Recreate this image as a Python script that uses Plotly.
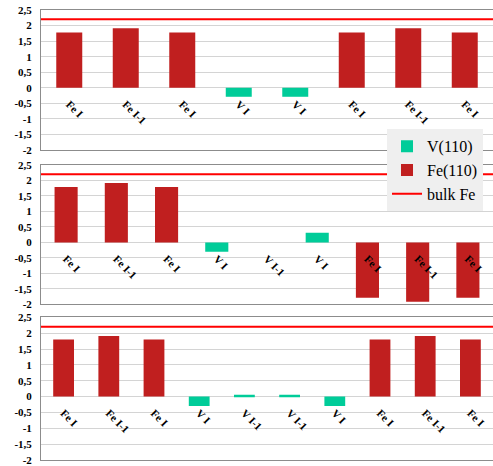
import plotly.graph_objects as go

# Magnetic moments per layer for three V/Fe(110) stackings
P1_LABELS = ["Fe I", "Fe I-1", "Fe I", "V I", "V I", "Fe I", "Fe I-1", "Fe I"]
P1_VALUES = [1.78, 1.91, 1.78, -0.29, -0.29, 1.78, 1.91, 1.78]

P2_LABELS = ["Fe I", "Fe I-1", "Fe I", "V I", "V I-1", "V I", "Fe I", "Fe I-1", "Fe I"]
P2_VALUES = [1.79, 1.92, 1.79, -0.30, 0.0, 0.31, -1.78, -1.91, -1.78]

P3_LABELS = ["Fe I", "Fe I-1", "Fe I", "V I", "V I-1", "V I-1", "V I", "Fe I", "Fe I-1", "Fe I"]
P3_VALUES = [1.80, 1.91, 1.80, -0.30, 0.06, 0.06, -0.30, 1.80, 1.91, 1.80]

BULK_FE = 2.2

Y_TICKS = [-2, -1.5, -1, -0.5, 0, 0.5, 1, 1.5, 2, 2.5]
Y_TICK_LABELS = ["-2", "-1,5", "-1", "-0,5", "0", "0,5", "1", "1,5", "2", "2,5"]
Y_RANGE = [-2, 2.5]

FE_COLOR = "#c01f1f"
V_COLOR = "#00cc99"
BULK_COLOR = "#ff0000"
FRAME = "#8c8c8c"
GRID = "#d4d4d4"
SERIF = "Liberation Serif, Times New Roman, serif"

panels = [(P1_LABELS, P1_VALUES), (P2_LABELS, P2_VALUES), (P3_LABELS, P3_VALUES)]
domains = [[0.689, 1.0], [0.3456, 0.6556], [0.0, 0.317]]

fig = go.Figure()
layout = {}

for i, ((labels, values), dom) in enumerate(zip(panels, domains)):
    n = len(labels)
    xs = list(range(n))
    xa = "x" if i == 0 else f"x{i + 1}"
    ya = "y" if i == 0 else f"y{i + 1}"
    lab_idx = i + 4
    xa_lab = f"x{lab_idx}"

    fe_vals = [v if lab.startswith("Fe") else None for lab, v in zip(labels, values)]
    v_vals = [v if lab.startswith("V") else None for lab, v in zip(labels, values)]

    fig.add_trace(go.Bar(
        x=xs, y=v_vals, name="V(110)", xaxis=xa, yaxis=ya, width=0.46,
        marker=dict(color=V_COLOR, line=dict(width=0)),
        showlegend=(i == 0), legendrank=1, legendgroup="v",
    ))
    fig.add_trace(go.Bar(
        x=xs, y=fe_vals, name="Fe(110)", xaxis=xa, yaxis=ya, width=0.46,
        marker=dict(color=FE_COLOR, line=dict(width=0)),
        showlegend=(i == 0), legendrank=2, legendgroup="fe",
    ))
    fig.add_trace(go.Scatter(
        x=[-0.5, n - 0.5], y=[BULK_FE, BULK_FE], mode="lines", name="bulk Fe",
        xaxis=xa, yaxis=ya, line=dict(color=BULK_COLOR, width=2),
        showlegend=(i == 0), legendrank=3, legendgroup="bulk", hoverinfo="skip",
    ))
    # invisible carrier trace for the category-label axis sitting on y = 0
    fig.add_trace(go.Scatter(
        x=xs, y=[None] * n, xaxis=xa_lab, yaxis=ya, mode="markers",
        showlegend=False, hoverinfo="skip",
    ))

    xr = [-0.5, n - 0.5]
    zero_pos = dom[0] + (dom[1] - dom[0]) * (0 - Y_RANGE[0]) / (Y_RANGE[1] - Y_RANGE[0])

    layout["xaxis" if i == 0 else f"xaxis{i + 1}"] = dict(
        domain=[0, 1], anchor=ya, range=xr, showticklabels=False, ticks="",
        showgrid=False, zeroline=False, showline=True, mirror=True,
        linecolor=FRAME, linewidth=1,
    )
    layout[f"xaxis{lab_idx}"] = dict(
        overlaying=xa, anchor="free", position=zero_pos, range=xr,
        tickmode="array", tickvals=xs, ticktext=labels, tickangle=45,
        ticks="", showgrid=False, zeroline=False, showline=False,
        ticklabelstandoff=7,
        tickfont=dict(family=SERIF, size=11, color="#000000", weight="bold"),
    )
    layout["yaxis" if i == 0 else f"yaxis{i + 1}"] = dict(
        domain=dom, anchor=xa, range=Y_RANGE, tickmode="array",
        tickvals=Y_TICKS, ticktext=Y_TICK_LABELS, ticks="",
        showgrid=True, gridcolor=GRID, gridwidth=1, zeroline=False,
        showline=True, linecolor=FRAME, linewidth=1, ticklabelstandoff=6,
        tickfont=dict(family=SERIF, size=11, color="#000000", weight="bold"),
    )

fig.update_layout(
    **layout,
    width=493, height=466,
    margin=dict(l=41, r=0, t=10, b=6),
    barmode="overlay",
    plot_bgcolor="#ffffff", paper_bgcolor="#ffffff",
    font=dict(family=SERIF),
    legend=dict(
        x=0.7655, y=0.735, xanchor="left", yanchor="top",
        bgcolor="#efefef", borderwidth=0,
        font=dict(family=SERIF, size=16, color="#000000"),
        traceorder="normal",
    ),
)

fig.write_html("out.html")
